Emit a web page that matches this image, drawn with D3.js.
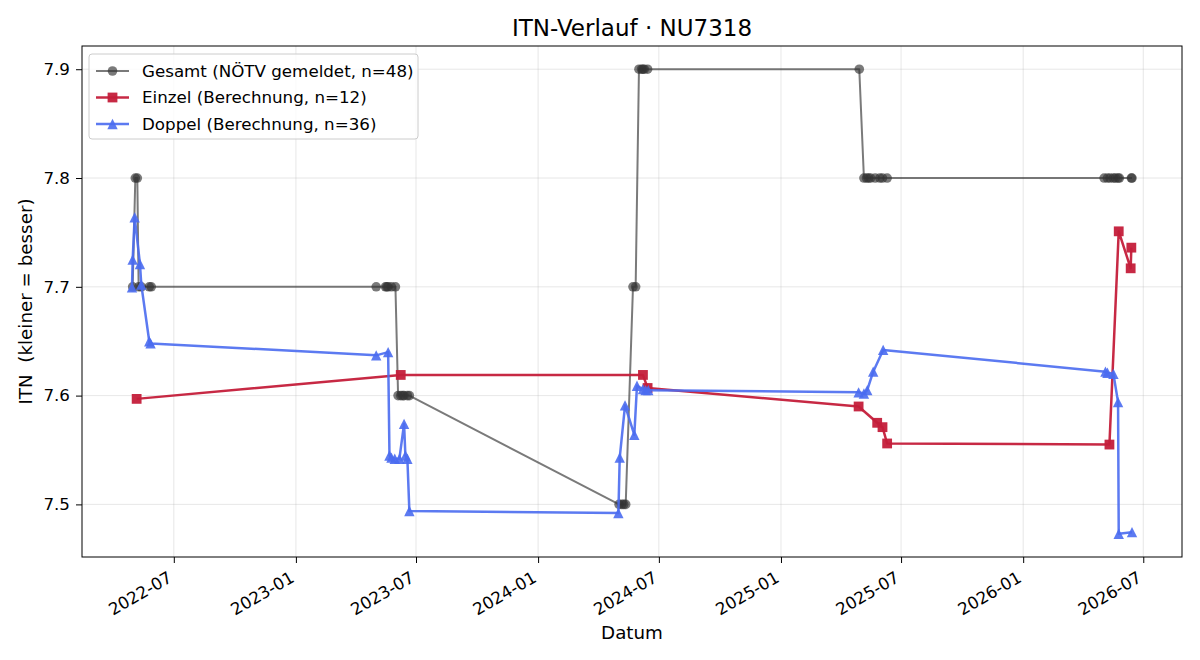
<!DOCTYPE html>
<html lang="de">
<head>
<meta charset="UTF-8">
<title>ITN-Verlauf</title>
<script src="https://d3js.org/d3.v7.min.js"></script>
<style>
    body { margin: 0; background: #fff; }
    svg text { font-family: "DejaVu Sans", sans-serif; fill: #000; white-space: pre; }
</style>
</head>
<body>
<svg id="chart" width="1200" height="660"></svg>
<script>
    // Gesamt (NÖTV gemeldet)
    const gesamtDates = [
        "2022-04-30", "2022-05-04", "2022-05-07", "2022-05-09", "2022-05-13", "2022-05-25", "2022-05-28",
        "2023-05-02", "2023-05-16", "2023-05-18", "2023-05-20", "2023-05-25", "2023-05-31",
        "2023-06-04", "2023-06-08", "2023-06-11", "2023-06-13", "2023-06-18", "2023-06-21",
        "2024-05-02", "2024-05-06", "2024-05-09", "2024-05-12", "2024-05-23", "2024-05-27",
        "2024-06-01", "2024-06-05", "2024-06-07", "2024-06-09", "2024-06-14",
        "2025-04-29", "2025-05-06", "2025-05-10", "2025-05-13", "2025-05-16", "2025-05-23", "2025-05-30", "2025-06-03", "2025-06-10",
        "2026-05-03", "2026-05-08", "2026-05-12", "2026-05-17", "2026-05-20", "2026-05-24", "2026-05-26", "2026-06-13", "2026-06-14"
    ];
    const gesamtValues = [
        7.7, 7.8, 7.8, 7.7, 7.7, 7.7, 7.7,
        7.7, 7.7, 7.7, 7.7, 7.7, 7.7,
        7.6, 7.6, 7.6, 7.6, 7.6, 7.6,
        7.5, 7.5, 7.5, 7.5, 7.7, 7.7,
        7.9, 7.9, 7.9, 7.9, 7.9,
        7.9, 7.8, 7.8, 7.8, 7.8, 7.8, 7.8, 7.8, 7.8,
        7.8, 7.8, 7.8, 7.8, 7.8, 7.8, 7.8, 7.8, 7.8
    ];

    // Einzel (Berechnung)
    const einzelDates = [
        "2022-05-06", "2023-06-08", "2024-06-07", "2024-06-14", "2025-04-28", "2025-05-26",
        "2025-06-03", "2025-06-10", "2026-05-11", "2026-05-25", "2026-06-12", "2026-06-13"
    ];
    const einzelValues = [
        7.597, 7.619, 7.619, 7.607, 7.590, 7.575,
        7.571, 7.556, 7.555, 7.751, 7.717, 7.736
    ];

    // Doppel (Berechnung)
    const doppelDates = [
        "2022-04-29", "2022-04-30", "2022-05-03", "2022-05-11", "2022-05-13", "2022-05-25", "2022-05-27",
        "2023-05-02", "2023-05-20", "2023-05-22", "2023-05-25", "2023-05-30", "2023-06-06",
        "2023-06-13", "2023-06-15", "2023-06-18", "2023-06-21",
        "2024-05-01", "2024-05-03", "2024-05-11", "2024-05-25", "2024-05-29", "2024-06-07", "2024-06-11", "2024-06-15",
        "2025-04-28", "2025-05-06", "2025-05-11", "2025-05-20", "2025-06-04",
        "2026-05-05", "2026-05-08", "2026-05-17", "2026-05-24", "2026-05-25", "2026-06-14"
    ];
    const doppelValues = [
        7.6995, 7.725, 7.764, 7.721, 7.702, 7.650, 7.648,
        7.637, 7.640, 7.545, 7.543, 7.542, 7.542,
        7.574, 7.545, 7.542, 7.494,
        7.492, 7.543, 7.591, 7.564, 7.609, 7.606, 7.605, 7.605,
        7.603, 7.602, 7.605, 7.622, 7.642,
        7.622, 7.621, 7.620, 7.594, 7.473, 7.4745
    ];

    const yTicks = [7.5, 7.6, 7.7, 7.8, 7.9];

    const parse = d3.utcParse("%Y-%m-%d");
    const toPoints = (dates, values) => dates.map((d, i) => ({ date: parse(d), value: values[i] }));

    const series = [
        { label: "Gesamt (NÖTV gemeldet, n=48)", points: toPoints(gesamtDates, gesamtValues),
          color: "#333333", opacity: 0.65, width: 2, marker: "circle" },
        { label: "Einzel (Berechnung, n=12)", points: toPoints(einzelDates, einzelValues),
          color: "#c41e3a", opacity: 0.95, width: 2.5, marker: "square" },
        { label: "Doppel (Berechnung, n=36)", points: toPoints(doppelDates, doppelValues),
          color: "#4a6cf0", opacity: 0.9, width: 2.5, marker: "triangle" }
    ];

    const margin = { left: 82, right: 18, top: 46, bottom: 103 };
    const W = 1200, H = 660;
    const plotW = W - margin.left - margin.right;
    const plotH = H - margin.top - margin.bottom;
    const tickFont = 16.7;

    // matplotlib-like 5% padding
    const all = series.flatMap(s => s.points);
    const [dMin, dMax] = d3.extent(all, p => p.date);
    const dPad = (dMax - dMin) * 0.05;
    const [vMin, vMax] = d3.extent(all, p => p.value);
    const vPad = (vMax - vMin) * 0.05;

    const x = d3.scaleUtc()
        .domain([new Date(+dMin - dPad), new Date(+dMax + dPad)])
        .range([0, plotW]);
    const y = d3.scaleLinear()
        .domain([vMin - vPad, vMax + vPad])
        .range([plotH, 0]);

    const svg = d3.select("#chart");
    const g = svg.append("g").attr("transform", `translate(${margin.left},${margin.top})`);

    const xTicks = x.ticks(d3.utcMonth.every(6));

    // grid
    g.append("g").selectAll("line").data(xTicks).join("line")
        .attr("x1", d => x(d)).attr("x2", d => x(d))
        .attr("y1", 0).attr("y2", plotH)
        .attr("stroke", "#b0b0b0").attr("stroke-opacity", 0.3).attr("stroke-width", 1);
    g.append("g").selectAll("line").data(yTicks).join("line")
        .attr("x1", 0).attr("x2", plotW)
        .attr("y1", d => y(d)).attr("y2", d => y(d))
        .attr("stroke", "#b0b0b0").attr("stroke-opacity", 0.3).attr("stroke-width", 1);

    // axes
    const xAxis = g.append("g")
        .attr("transform", `translate(0,${plotH})`)
        .call(d3.axisBottom(x).tickValues(xTicks).tickFormat(d3.utcFormat("%Y-%m")).tickSize(6).tickSizeOuter(0));
    xAxis.select(".domain").remove();
    xAxis.selectAll(".tick line").attr("stroke", "#000").attr("stroke-width", 1);
    xAxis.selectAll(".tick text")
        .attr("font-size", tickFont)
        .attr("text-anchor", "end")
        .attr("dy", null)
        .attr("y", 0)
        .attr("transform", "translate(-1,24) rotate(-30)");

    const yAxis = g.append("g")
        .call(d3.axisLeft(y).tickValues(yTicks).tickFormat(d3.format(".1f")).tickSize(6).tickSizeOuter(0));
    yAxis.select(".domain").remove();
    yAxis.selectAll(".tick line").attr("stroke", "#000").attr("stroke-width", 1);
    yAxis.selectAll(".tick text").attr("font-size", tickFont).attr("x", -12);

    // series
    const line = d3.line().x(p => x(p.date)).y(p => y(p.value));

    function markerPath(type, s) {
        if (type === "square") return `M${-s},${-s}H${s}V${s}H${-s}Z`;
        if (type === "triangle") return `M0,${-s}L${s},${s}L${-s},${s}Z`;
        return d3.symbol(d3.symbolCircle, Math.PI * s * s)();
    }
    const markerSize = { circle: 4.8, square: 4.9, triangle: 5.2 };

    series.forEach(s => {
        const sg = g.append("g");
        sg.append("path")
            .datum(s.points)
            .attr("d", line)
            .attr("fill", "none")
            .attr("stroke", s.color)
            .attr("stroke-opacity", s.opacity)
            .attr("stroke-width", s.width)
            .attr("stroke-linejoin", "round");
        sg.selectAll(".m").data(s.points).join("path")
            .attr("transform", p => `translate(${x(p.date)},${y(p.value)})`)
            .attr("d", markerPath(s.marker, markerSize[s.marker]))
            .attr("fill", s.color)
            .attr("fill-opacity", s.opacity);
    });

    // frame
    g.append("rect")
        .attr("width", plotW).attr("height", plotH)
        .attr("fill", "none").attr("stroke", "#000").attr("stroke-width", 1);

    // legend
    const lg = g.append("g").attr("transform", "translate(7,8)");
    lg.append("rect")
        .attr("width", 329).attr("height", 85).attr("rx", 3)
        .attr("fill", "#fff").attr("fill-opacity", 0.8)
        .attr("stroke", "#cccccc").attr("stroke-width", 1);
    series.forEach((s, i) => {
        const row = lg.append("g").attr("transform", `translate(0,${17 + i * 26.5})`);
        row.append("line")
            .attr("x1", 7).attr("x2", 40)
            .attr("stroke", s.color).attr("stroke-opacity", s.opacity).attr("stroke-width", s.width);
        row.append("path")
            .attr("transform", "translate(23.5,0)")
            .attr("d", markerPath(s.marker, markerSize[s.marker]))
            .attr("fill", s.color).attr("fill-opacity", s.opacity);
        row.append("text")
            .attr("x", 53).attr("y", 0).attr("dy", "0.35em")
            .attr("font-size", tickFont)
            .text(s.label);
    });

    // titles
    svg.append("text")
        .attr("x", margin.left + plotW / 2).attr("y", 36)
        .attr("text-anchor", "middle").attr("font-size", 23)
        .text("ITN-Verlauf · NU7318");
    svg.append("text")
        .attr("x", margin.left + plotW / 2).attr("y", 639)
        .attr("text-anchor", "middle").attr("font-size", 18.3)
        .text("Datum");
    svg.append("text")
        .attr("transform", `translate(32,${margin.top + plotH / 2}) rotate(-90)`)
        .attr("text-anchor", "middle").attr("font-size", 18.3)
        .text("ITN  (kleiner = besser)");
</script>
</body>
</html>
